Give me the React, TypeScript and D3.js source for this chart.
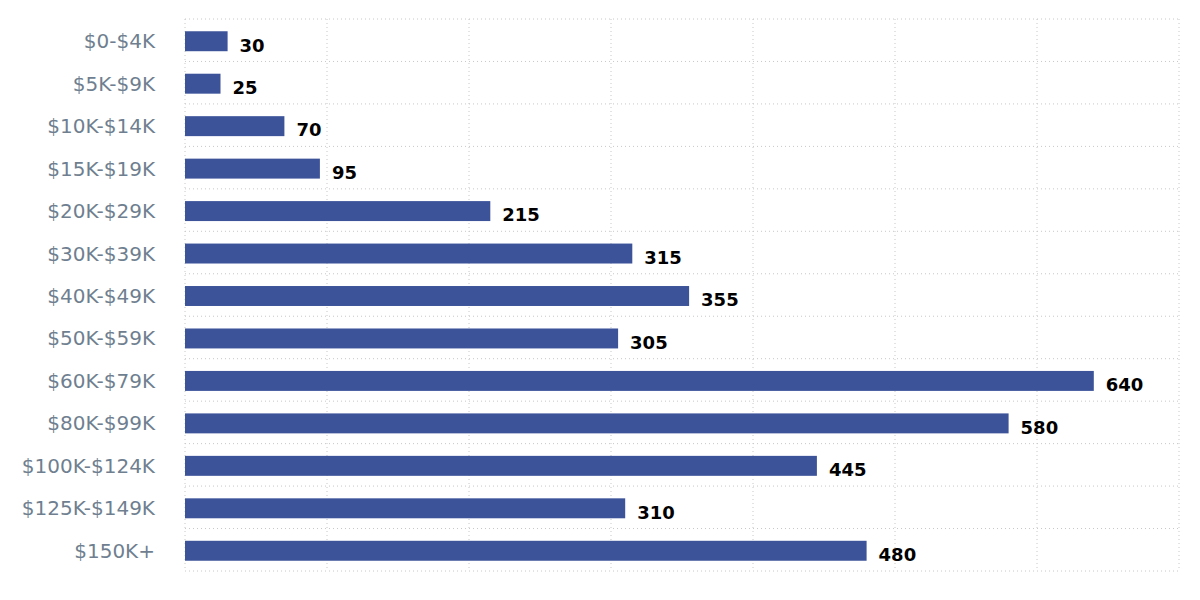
import React from "react";
import * as d3 from "d3";

const categories = [
  "$0-$4K", "$5K-$9K", "$10K-$14K", "$15K-$19K", "$20K-$29K", "$30K-$39K",
  "$40K-$49K", "$50K-$59K", "$60K-$79K", "$80K-$99K", "$100K-$124K",
  "$125K-$149K", "$150K+",
];
const values = [30, 25, 70, 95, 215, 315, 355, 305, 640, 580, 445, 310, 480];
const xTicks = [0, 100, 200, 300, 400, 500, 600, 700];

const W = 1200;
const H = 600;
const margin = { top: 19, right: 21, bottom: 29, left: 185 };

export default function App() {
  const x = d3.scaleLinear().domain([0, 700]).range([margin.left, W - margin.right]);
  const y = d3
    .scaleBand<string>()
    .domain(categories)
    .range([margin.top, H - margin.bottom])
    .paddingInner(0.53)
    .paddingOuter(0.265);
  const step = y.step();
  const bandStart = margin.top;
  const hLines = d3.range(categories.length + 1).map((i) => bandStart + i * step);

  return (
    <svg
      width={W}
      height={H}
      style={{ position: "absolute", left: 0, top: 0, fontFamily: "DejaVu Sans, sans-serif" }}
    >
      <rect width={W} height={H} fill="#fff" />
      <g>
        {hLines.map((yy, i) => (
          <line
            key={"h" + i}
            x1={x(0)}
            x2={x(700)}
            y1={yy}
            y2={yy}
            stroke="#c8c8c8"
            strokeWidth={1}
            strokeDasharray="1,3"
          />
        ))}
        {xTicks.map((t) => (
          <line
            key={"v" + t}
            x1={x(t)}
            x2={x(t)}
            y1={hLines[0]}
            y2={hLines[hLines.length - 1]}
            stroke="#c8c8c8"
            strokeWidth={1}
            strokeDasharray="1,3"
          />
        ))}
      </g>
      <g>
        {categories.map((c, i) => (
          <rect
            key={c}
            x={x(0)}
            y={y(c)! + 1}
            width={x(values[i]) - x(0)}
            height={y.bandwidth()}
            fill="#3c539a"
          />
        ))}
      </g>
      <g>
        {categories.map((c, i) => (
          <text
            key={"l" + c}
            x={155}
            y={y(c)! + y.bandwidth() / 2 + 1}
            dy="0.35em"
            textAnchor="end"
            fontSize={20}
            fill="#6f7f90"
          >
            {c}
          </text>
        ))}
      </g>
      <g>
        {categories.map((c, i) => (
          <text
            key={"v" + c}
            x={x(values[i]) + 12}
            y={y(c)! + y.bandwidth() / 2 + 5}
            dy="0.35em"
            fontSize={18}
            fontWeight="bold"
            fill="#000"
          >
            {values[i]}
          </text>
        ))}
      </g>
    </svg>
  );
}
